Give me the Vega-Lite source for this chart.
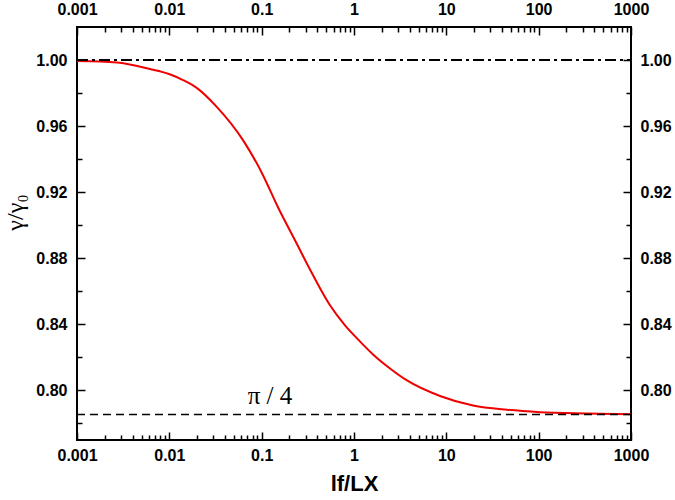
{
  "$schema": "https://vega.github.io/schema/vega-lite/v6.json",
  "width": 554,
  "height": 413,
  "autosize": "none",
  "padding": {"left": 77, "top": 27, "right": 44, "bottom": 60},
  "background": "white",
  "config": {
    "view": {"stroke": "black", "strokeWidth": 2},
    "axis": {
      "grid": false,
      "domain": false,
      "tickColor": "black",
      "tickWidth": 1.5,
      "labelFont": "Liberation Sans",
      "labelFontWeight": "bold",
      "labelFontSize": 16,
      "labelColor": "black",
      "labelFlush": false,
      "labelOverlap": false,
      "labelBound": false
    }
  },
  "datasets": {
    "curve": [
      {"x": 0.001, "y": 0.9994},
      {"x": 0.002711, "y": 0.9985},
      {"x": 0.006176, "y": 0.99455},
      {"x": 0.009917, "y": 0.99152},
      {"x": 0.01406, "y": 0.98788},
      {"x": 0.01994, "y": 0.98303},
      {"x": 0.03282, "y": 0.97152},
      {"x": 0.06278, "y": 0.95152},
      {"x": 0.1008, "y": 0.93152},
      {"x": 0.1502, "y": 0.91091},
      {"x": 0.2296, "y": 0.89091},
      {"x": 0.3508, "y": 0.87091},
      {"x": 0.5496, "y": 0.85152},
      {"x": 0.799, "y": 0.83939},
      {"x": 1.0777, "y": 0.83152},
      {"x": 1.6064, "y": 0.82182},
      {"x": 2.4547, "y": 0.81333},
      {"x": 3.7497, "y": 0.80606},
      {"x": 8.54, "y": 0.79667},
      {"x": 19.44, "y": 0.79091},
      {"x": 45.41, "y": 0.7883},
      {"x": 103.4, "y": 0.78685},
      {"x": 317.6, "y": 0.78606},
      {"x": 1000, "y": 0.7856}
    ],
    "unity": [
      {"x": 0.001, "y": 1.0},
      {"x": 1000, "y": 1.0}
    ],
    "quarterpi": [
      {"x": 0.001, "y": 0.7854},
      {"x": 1000, "y": 0.7854}
    ],
    "label": [
      {"x": 0.123, "y": 0.7915, "text": "π / 4"}
    ]
  },
  "layer": [
    {
      "data": {"name": "curve"},
      "mark": {"type": "line", "color": "#ee0000", "strokeWidth": 2, "interpolate": "monotone"},
      "encoding": {
        "x": {
          "field": "x", "type": "quantitative",
          "scale": {"type": "log", "domain": [0.001, 1000], "nice": false},
          "axis": {
            "orient": "bottom",
            "values": [0.001, 0.01, 0.1, 1, 10, 100, 1000],
            "labelExpr": "format(datum.value, '~g')",
            "tickSize": 8,
            "offset": -8,
            "labelPadding": 7,
            "title": "lf/LX",
            "titleFont": "Liberation Sans",
            "titleFontWeight": "bold",
            "titleFontSize": 22,
            "titleColor": "black",
            "titleBaseline": "top",
            "titleY": 41
          }
        },
        "y": {
          "field": "y", "type": "quantitative",
          "scale": {"domain": [0.77, 1.02], "nice": false, "zero": false},
          "axis": {
            "orient": "left",
            "values": [0.8, 0.84, 0.88, 0.92, 0.96, 1.0],
            "format": ".2f",
            "tickSize": 8,
            "offset": -8,
            "labelPadding": 10,
            "title": "γ/γ₀",
            "titleFont": "Liberation Serif",
            "titleFontWeight": "normal",
            "titleFontSize": 24,
            "titleColor": "black",
            "titleX": -58,
            "titleY": 185
          }
        }
      }
    },
    {
      "data": {"name": "unity"},
      "mark": {"type": "line", "color": "black", "strokeWidth": 2, "strokeDash": [11, 4, 3, 4]},
      "encoding": {
        "x": {
          "field": "x", "type": "quantitative",
          "scale": {"type": "log", "domain": [0.001, 1000], "nice": false},
          "axis": {
            "orient": "top",
            "values": [0.001, 0.01, 0.1, 1, 10, 100, 1000],
            "labelExpr": "format(datum.value, '~g')",
            "tickSize": 8,
            "offset": -8,
            "labelPadding": 10,
            "title": null
          }
        },
        "y": {
          "field": "y", "type": "quantitative",
          "scale": {"domain": [0.77, 1.02], "nice": false, "zero": false},
          "axis": {
            "orient": "right",
            "values": [0.8, 0.84, 0.88, 0.92, 0.96, 1.0],
            "format": ".2f",
            "tickSize": 8,
            "offset": -8,
            "labelPadding": 9,
            "title": null
          }
        }
      }
    },
    {
      "data": {"name": "quarterpi"},
      "mark": {"type": "line", "color": "black", "strokeWidth": 1.5, "strokeDash": [8, 5]},
      "encoding": {
        "x": {
          "field": "x", "type": "quantitative",
          "scale": {"type": "log", "domain": [0.001, 1000], "nice": false},
          "axis": {
            "orient": "bottom",
            "values": [0.002,0.003,0.004,0.005,0.006,0.007,0.008,0.009,0.02,0.03,0.04,0.05,0.06,0.07,0.08,0.09,0.2,0.3,0.4,0.5,0.6,0.7,0.8,0.9,2,3,4,5,6,7,8,9,20,30,40,50,60,70,80,90,200,300,400,500,600,700,800,900],
            "labels": false,
            "tickSize": 5,
            "offset": -5,
            "title": null
          }
        },
        "y": {
          "field": "y", "type": "quantitative",
          "scale": {"domain": [0.77, 1.02], "nice": false, "zero": false},
          "axis": {
            "orient": "left",
            "values": [0.78, 0.82, 0.86, 0.9, 0.94, 0.98],
            "labels": false,
            "tickSize": 5,
            "offset": -5,
            "title": null
          }
        }
      }
    },
    {
      "data": {"name": "label"},
      "mark": {"type": "text", "font": "Liberation Serif", "fontSize": 25, "align": "center", "baseline": "alphabetic", "color": "black"},
      "encoding": {
        "x": {
          "field": "x", "type": "quantitative",
          "scale": {"type": "log", "domain": [0.001, 1000], "nice": false},
          "axis": {
            "orient": "top",
            "values": [0.002,0.003,0.004,0.005,0.006,0.007,0.008,0.009,0.02,0.03,0.04,0.05,0.06,0.07,0.08,0.09,0.2,0.3,0.4,0.5,0.6,0.7,0.8,0.9,2,3,4,5,6,7,8,9,20,30,40,50,60,70,80,90,200,300,400,500,600,700,800,900],
            "labels": false,
            "tickSize": 5,
            "offset": -5,
            "title": null
          }
        },
        "y": {
          "field": "y", "type": "quantitative",
          "scale": {"domain": [0.77, 1.02], "nice": false, "zero": false},
          "axis": {
            "orient": "right",
            "values": [0.78, 0.82, 0.86, 0.9, 0.94, 0.98],
            "labels": false,
            "tickSize": 5,
            "offset": -5,
            "title": null
          }
        },
        "text": {"field": "text"}
      }
    }
  ],
  "resolve": {"axis": {"x": "independent", "y": "independent"}}
}
